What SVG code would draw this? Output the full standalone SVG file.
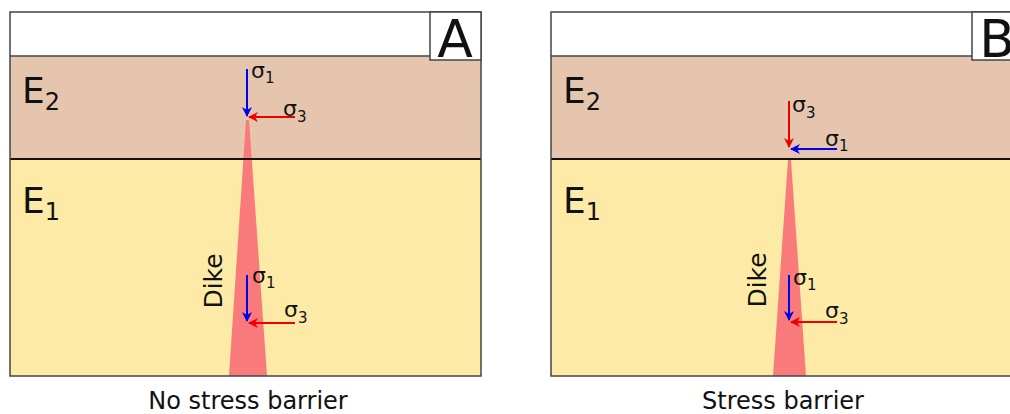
<svg xmlns="http://www.w3.org/2000/svg" width="1010" height="414" viewBox="0 0 1010 414">
  <style>
    .top { fill: #ffffff; }
    .e2 { fill: #e6c5ae; }
    .e1 { fill: #fdeaa6; }
    .frame { fill: none; stroke: #444; stroke-width: 1.5; }
    .bound { stroke: #111; stroke-width: 2; }
    .dike { fill: #f87a7a; }
    .txt { font-family: "DejaVu Sans", Verdana, sans-serif; fill: #111; }
    .lay { font-size: 36px; }
    .sig { font-size: 22px; }
    .cap { font-size: 24px; }
    .blue { stroke: #0000ee; stroke-width: 2; fill: none; }
    .red { stroke: #ee0000; stroke-width: 2; fill: none; }
  </style>
  <defs>
    <marker id="ahB" viewBox="0 0 10 10" refX="9" refY="5" markerWidth="5" markerHeight="5" orient="auto" markerUnits="strokeWidth">
      <path d="M0,0 L10,5 L0,10 L3,5 z" fill="#0000ee"/>
    </marker>
    <marker id="ahR" viewBox="0 0 10 10" refX="9" refY="5" markerWidth="5" markerHeight="5" orient="auto" markerUnits="strokeWidth">
      <path d="M0,0 L10,5 L0,10 L3,5 z" fill="#ee0000"/>
    </marker>
  </defs>

  <rect width="1010" height="414" fill="#ffffff"/>

  <!-- Panel A -->
  <g id="panelA">
    <rect class="top" x="10" y="12" width="471" height="44"/>
    <rect class="e2" x="10" y="56" width="471" height="103"/>
    <rect class="e1" x="10" y="159" width="471" height="217"/>
    <line class="frame" x1="10" y1="56" x2="481" y2="56"/>
    <polygon class="dike" points="246,120 249,120 267,376 229,376"/>
    <line class="bound" x1="10" y1="159" x2="481" y2="159"/>
    <rect class="frame" x="10" y="12" width="471" height="364"/>
    <rect x="430" y="12" width="51" height="48" fill="#fff" stroke="#444" stroke-width="1.5"/>
    <text class="txt" x="455" y="57" font-size="52" text-anchor="middle">A</text>
    <text class="txt lay" x="22" y="103">E<tspan font-size="24" dy="7">2</tspan></text>
    <text class="txt lay" x="22" y="213">E<tspan font-size="24" dy="7">1</tspan></text>
    <text class="txt" font-size="25" transform="translate(222,281) rotate(-90)" text-anchor="middle">Dike</text>
  </g>

  <!-- Panel B -->
  <g id="panelB">
    <rect class="top" x="551" y="12" width="470" height="44"/>
    <rect class="e2" x="551" y="56" width="470" height="103"/>
    <rect class="e1" x="551" y="159" width="470" height="217"/>
    <line class="frame" x1="551" y1="56" x2="1020" y2="56"/>
    <polygon class="dike" points="788,160 791,160 806,376 773,376"/>
    <line class="bound" x1="551" y1="159" x2="1020" y2="159"/>
    <rect class="frame" x="551" y="12" width="470" height="364"/>
    <rect x="972" y="12" width="51" height="48" fill="#fff" stroke="#444" stroke-width="1.5"/>
    <text class="txt" x="997" y="57" font-size="52" text-anchor="middle">B</text>
    <text class="txt lay" x="563" y="103">E<tspan font-size="24" dy="7">2</tspan></text>
    <text class="txt lay" x="563" y="213">E<tspan font-size="24" dy="7">1</tspan></text>
    <text class="txt" font-size="25" transform="translate(766,280) rotate(-90)" text-anchor="middle">Dike</text>
  </g>

  <!-- Stress arrows -->
  <g id="connectors">
    <line class="blue" x1="247" y1="69" x2="247" y2="116" marker-end="url(#ahB)"/>
    <line class="red" x1="295" y1="117" x2="249" y2="117" marker-end="url(#ahR)"/>
    <line class="blue" x1="247" y1="275" x2="247" y2="321" marker-end="url(#ahB)"/>
    <line class="red" x1="295" y1="323" x2="249" y2="323" marker-end="url(#ahR)"/>

    <line class="red" x1="789" y1="101" x2="789" y2="147" marker-end="url(#ahR)"/>
    <line class="blue" x1="837" y1="149" x2="791" y2="149" marker-end="url(#ahB)"/>
    <line class="blue" x1="789" y1="275" x2="789" y2="320" marker-end="url(#ahB)"/>
    <line class="red" x1="837" y1="322" x2="791" y2="322" marker-end="url(#ahR)"/>
  </g>

  <!-- Stress labels -->
  <g id="labels" class="txt sig">
    <text x="251" y="78">σ<tspan font-size="15" dy="5">1</tspan></text>
    <text x="283" y="116">σ<tspan font-size="15" dy="6">3</tspan></text>
    <text x="252" y="283">σ<tspan font-size="15" dy="5">1</tspan></text>
    <text x="284" y="317">σ<tspan font-size="15" dy="6">3</tspan></text>

    <text x="792" y="112">σ<tspan font-size="15" dy="6">3</tspan></text>
    <text x="825" y="146">σ<tspan font-size="15" dy="5">1</tspan></text>
    <text x="793" y="285">σ<tspan font-size="15" dy="5">1</tspan></text>
    <text x="825" y="318">σ<tspan font-size="15" dy="6">3</tspan></text>
  </g>

  <g id="captions" class="txt cap">
    <text x="248" y="409" text-anchor="middle">No stress barrier</text>
    <text x="783" y="409" text-anchor="middle">Stress barrier</text>
  </g>
</svg>
